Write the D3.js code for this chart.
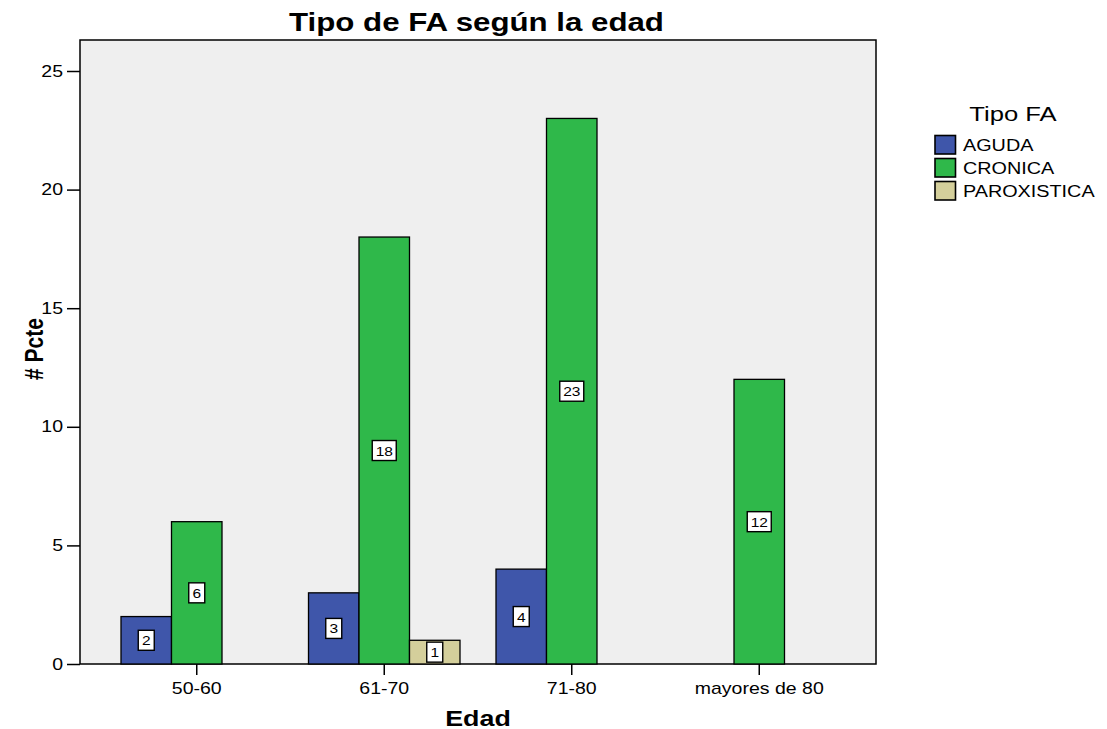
<!DOCTYPE html>
<html><head><meta charset="utf-8">
<script src="https://cdn.jsdelivr.net/npm/d3@7"></script>
<style>body{margin:0;background:#fff;font-family:"Liberation Sans",Arial,sans-serif;}</style>
</head><body><svg id="c" width="1107" height="729"></svg>
<script>
const categories = ["50-60","61-70","71-80","mayores de 80"];
const seriesNames = ["AGUDA","CRONICA","PAROXISTICA"];
const aguda = [2,3,4,null];
const cronica = [6,18,23,12];
const paroxistica = [null,1,null,null];
const yTicks = [0,5,10,15,20,25];
const colors = ["#3f56aa","#2fb84a","#d4cf9b"];

const SX = 1.22;
const svg = d3.select("#c");
const L=80,R=876,T=40,B=664;
const x = d3.scaleBand().domain(categories).range([103,853]).padding(0);
const y = d3.scaleLinear().domain([0,25]).range([B,71]);
const inner = d3.scaleBand().domain(seriesNames).range([-75.75,75.75]);
const series=[aguda,cronica,paroxistica];

function stext(parent,x0,y0,str,size,opts={}){
  const t = parent.append("text").attr("transform",`translate(${x0},${y0}) scale(${opts.sx||SX},1)`)
    .attr("font-size",size).attr("text-anchor",opts.anchor||"start").attr("fill","#000").text(str);
  if(opts.bold) t.attr("font-weight","bold");
  return t;
}

svg.append("rect").attr("x",L).attr("y",T).attr("width",R-L).attr("height",B-T).attr("fill","#efefef").attr("stroke","#000").attr("stroke-width",1.5);

const g = svg.append("g");
series.forEach((vals,si)=>{
  vals.forEach((v,ci)=>{
    if(v==null) return;
    const cx = x(categories[ci])+x.bandwidth()/2;
    const bx = cx+inner(seriesNames[si]);
    g.append("rect").attr("x",bx).attr("y",y(v)).attr("width",inner.bandwidth()).attr("height",y(0)-y(v))
      .attr("fill",colors[si]).attr("stroke","#000").attr("stroke-width",1.3);
  });
});
series.forEach((vals,si)=>{
  vals.forEach((v,ci)=>{
    if(v==null) return;
    const cx = x(categories[ci])+x.bandwidth()/2+inner(seriesNames[si])+inner.bandwidth()/2;
    const cy = (y(v)+y(0))/2;
    const s=String(v);
    const w = s.length>1?24:16;
    g.append("rect").attr("x",cx-w/2).attr("y",cy-10).attr("width",w).attr("height",20).attr("fill","#fff").attr("stroke","#000").attr("stroke-width",1.4);
    stext(g,cx,cy+5,s,13.5,{anchor:"middle",sx:1.15});
  });
});

// axes
const ya = svg.append("g").attr("transform",`translate(${L},0)`).call(d3.axisLeft(y).tickValues(yTicks).tickSize(13).tickPadding(4));
ya.select(".domain").remove();
ya.selectAll(".tick line").attr("stroke","#000").attr("stroke-width",1.5);
ya.selectAll(".tick text").attr("font-size",16).attr("fill","#000").attr("font-family","Liberation Sans, Arial, sans-serif")
  .attr("x",-17/SX).attr("transform",`scale(${SX},1)`);

const xa = svg.append("g").attr("transform",`translate(0,${B})`).call(d3.axisBottom(x).tickSize(11).tickPadding(8));
xa.select(".domain").remove();
xa.selectAll(".tick line").attr("stroke","#000").attr("stroke-width",1.5);
xa.selectAll(".tick text").attr("font-size",16).attr("fill","#000").attr("font-family","Liberation Sans, Arial, sans-serif")
  .attr("transform",`scale(${SX},1)`);

stext(svg,476.5,31,"Tipo de FA según la edad",25,{anchor:"middle",bold:true,sx:1.25});
stext(svg,478,726,"Edad",22,{anchor:"middle",bold:true,sx:1.22});
svg.append("text").attr("transform","translate(43,349) rotate(-90) scale(1,1.2)").attr("text-anchor","middle").attr("font-size",21).attr("font-weight","bold").text("# Pcte");

// legend
const lg = svg.append("g");
stext(lg,1013,121,"Tipo FA",21,{anchor:"middle"});
seriesNames.forEach((n,i)=>{
  lg.append("rect").attr("x",935).attr("y",135.5+i*23).attr("width",20.5).attr("height",18.5).attr("fill",colors[i]).attr("stroke","#000").attr("stroke-width",1.6);
  stext(lg,963,151+i*23,n,16.5,{sx:1.2});
});
</script></body></html>
